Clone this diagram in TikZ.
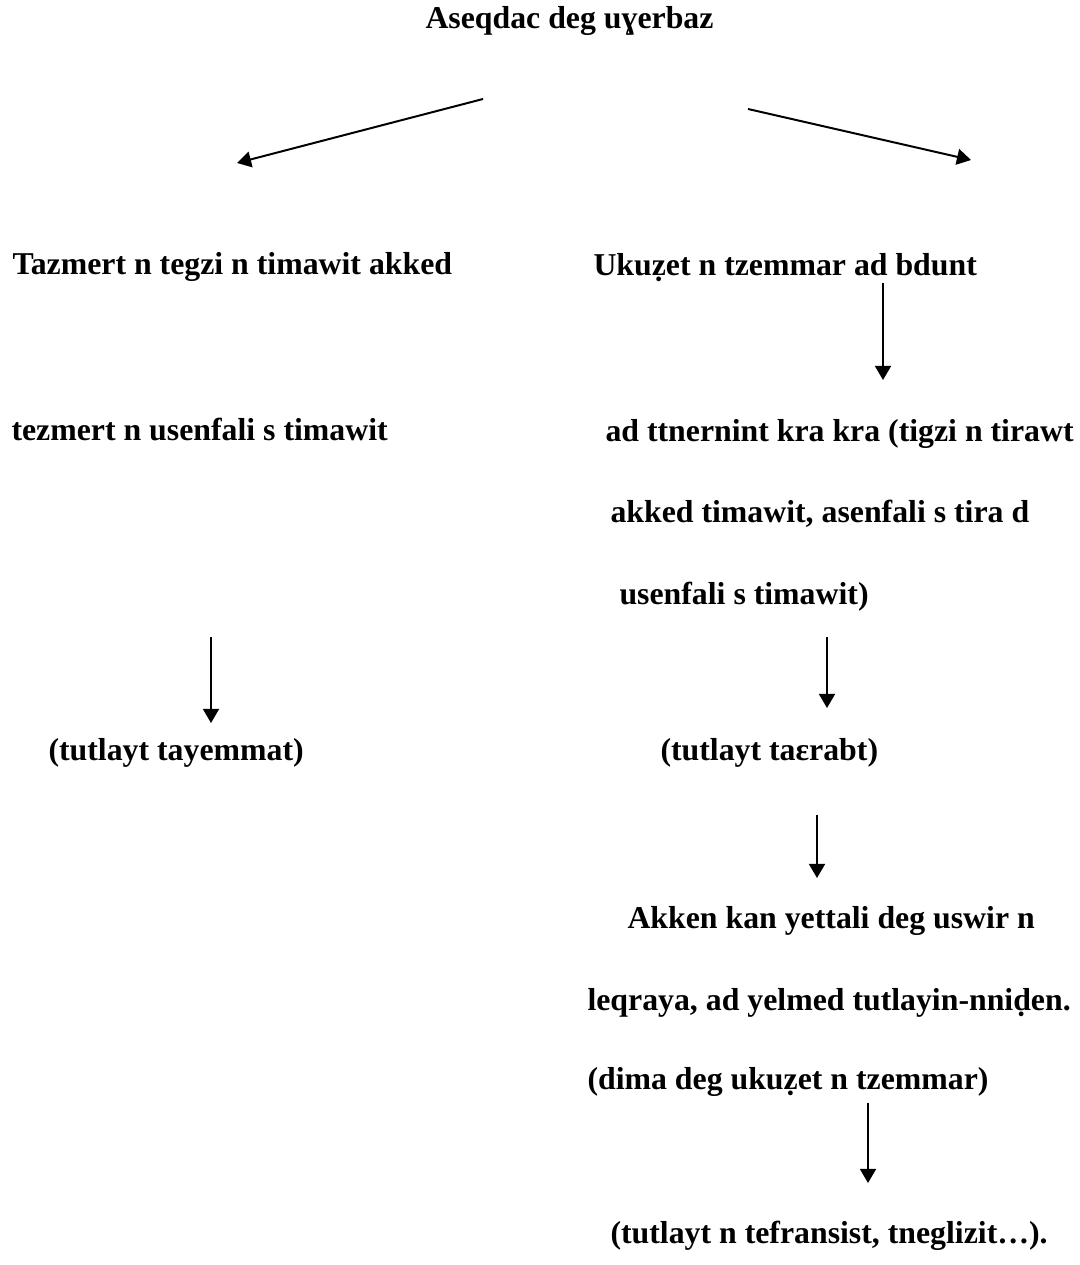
\documentclass[tikz,border=0pt]{standalone}
\usepackage{fontspec}
\setmainfont{Liberation Serif}
\usetikzlibrary{arrows.meta}

\tikzset{txt/.style = {anchor = base west, inner sep = 0pt, font = \fontsize{12}{14}\selectfont\bfseries},
  arr/.style = {-{Triangle[length = 5.3pt, width = 6pt]}, line width = 0.75pt}}

\begin{document}
\begin{tikzpicture}[x = 0.3774pt, y = -0.3774pt]
\useasboundingbox (0, 0) rectangle (1080, 1265);
\node[txt] (title) at (425, 29) {Aseqdac deg uɣerbaz};
% left branch
\node[txt] (tazmert) at (12, 275) {Tazmert n tegzi n timawit akked};
\node[txt] (tezmert) at (11, 440) {tezmert n usenfali s timawit};
\node[txt] (tayemmat) at (48, 760) {(tutlayt tayemmat)};
% right branch
\node[txt] (ukuzet) at (593, 276) {Ukuẓet n tzemmar ad bdunt};
\node[txt] (kra1) at (605, 441) {ad ttnernint kra kra (tigzi n tirawt};
\node[txt] (kra2) at (610, 522) {akked timawit, asenfali s tira d};
\node[txt] (kra3) at (619, 604) {usenfali s timawit)};
\node[txt] (taerabt) at (660, 760) {(tutlayt taεrabt)};
\node[txt] (akken1) at (627, 928) {Akken kan yettali deg uswir n};
\node[txt] (akken2) at (587, 1010) {leqraya, ad yelmed tutlayin-nniḍen.};
\node[txt] (akken3) at (587, 1089) {(dima deg ukuẓet n tzemmar)};
\node[txt] (tefransist) at (610, 1243) {(tutlayt n tefransist, tneglizit…).};
% arrow ends
\coordinate (ls) at (483, 99);
\coordinate (le) at (237, 163);
\coordinate (rs) at (748, 109);
\coordinate (re) at (971, 160);
\coordinate (d1s) at (883, 283);
\coordinate (d1e) at (883, 380);
\coordinate (d2s) at (211, 637);
\coordinate (d2e) at (211, 723);
\coordinate (d3s) at (827, 637);
\coordinate (d3e) at (827, 708);
\coordinate (d4s) at (817, 815);
\coordinate (d4e) at (817, 878);
\coordinate (d5s) at (868, 1103);
\coordinate (d5e) at (868, 1183);
\draw[arr] (ls) -- (le);
\draw[arr] (rs) -- (re);
\draw[arr] (d1s) -- (d1e);
\draw[arr] (d2s) -- (d2e);
\draw[arr] (d3s) -- (d3e);
\draw[arr] (d4s) -- (d4e);
\draw[arr] (d5s) -- (d5e);
\end{tikzpicture}
\end{document}
